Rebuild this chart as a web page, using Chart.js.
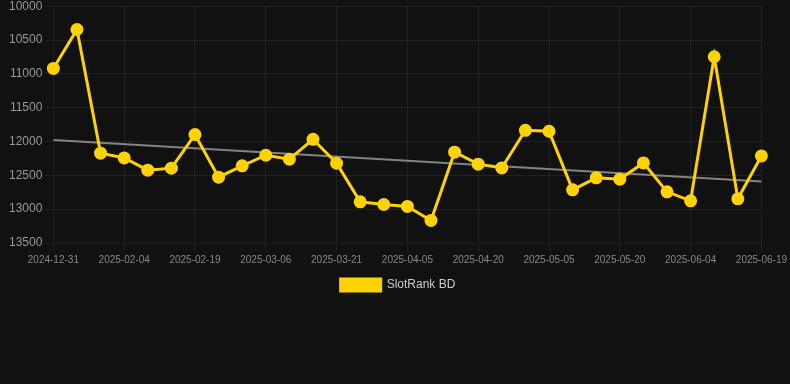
<!DOCTYPE html>
<html>
<head>
<meta charset="utf-8">
<script src="https://cdn.jsdelivr.net/npm/chart.js@4/dist/chart.umd.min.js"></script>
<style>
  html, body { margin: 0; padding: 0; background: #111111; overflow: hidden; }
  #wrap { width: 790px; height: 305px; position: relative; margin-top: -4px; }
</style>
</head>
<body>
<div id="wrap"><canvas id="c"></canvas></div>
<script>
const labels = [
  "2024-12-31", "2025-01-15", "2025-01-30", "2025-02-04", "2025-02-09", "2025-02-14",
  "2025-02-19", "2025-02-24", "2025-03-01", "2025-03-06", "2025-03-11", "2025-03-16",
  "2025-03-21", "2025-03-26", "2025-03-31", "2025-04-05", "2025-04-10", "2025-04-15",
  "2025-04-20", "2025-04-25", "2025-04-30", "2025-05-05", "2025-05-10", "2025-05-15",
  "2025-05-20", "2025-05-25", "2025-05-30", "2025-06-04", "2025-06-09", "2025-06-14",
  "2025-06-19"
];
const rankValues = [
  10920, 10344, 12173, 12242, 12424, 12394, 11898, 12527, 12360, 12203, 12262, 11967,
  12321, 12891, 12931, 12960, 13167, 12158, 12335, 12390, 11834, 11848, 12714, 12537,
  12557, 12316, 12744, 12876, 10747, 12847, 12213
];
const trendStart = 11977;
const trendEnd = 12591;
const trendValues = labels.map((_, i) => i === 0 ? trendStart : (i === labels.length - 1 ? trendEnd : null));
const yTicks = [10000, 10500, 11000, 11500, 12000, 12500, 13000, 13500];

const gridColor = 'rgba(255,255,255,0.07)';

new Chart(document.getElementById('c'), {
  type: 'line',
  data: {
    labels: labels,
    datasets: [
      {
        label: 'SlotRank BD',
        data: rankValues,
        borderColor: '#ffd200',
        backgroundColor: '#ffd200',
        borderWidth: 3,
        pointRadius: 5,
        pointHoverRadius: 5,
        pointBackgroundColor: '#ffd200',
        pointBorderColor: '#ffd200',
        tension: 0
      },
      {
        label: 'trend',
        data: trendValues,
        borderColor: 'rgba(160,160,160,0.8)',
        backgroundColor: 'rgba(160,160,160,0.8)',
        borderWidth: 2,
        pointRadius: 0,
        spanGaps: true,
        tension: 0
      }
    ]
  },
  options: {
    responsive: true,
    maintainAspectRatio: false,
    animation: false,
    layout: { padding: { left: 6, right: 0, top: 0, bottom: 0 } },
    plugins: {
      legend: {
        position: 'bottom',
        labels: {
          color: '#cccccc',
          font: { size: 12 },
          boxWidth: 40,
          filter: (item) => item.text === 'SlotRank BD'
        }
      },
      tooltip: { enabled: false }
    },
    scales: {
      x: {
        grid: { color: gridColor, drawTicks: true },
        ticks: {
          color: '#888888',
          font: { size: 10 },
          autoSkip: false,
          maxRotation: 0,
          callback: function (v, i) { return i % 3 === 0 ? labels[i] : null; }
        }
      },
      y: {
        reverse: true,
        min: yTicks[0],
        max: yTicks[yTicks.length - 1],
        grid: { color: gridColor },
        afterBuildTicks: (axis) => { axis.ticks = yTicks.map(v => ({ value: v })); },
        ticks: {
          color: '#999999',
          font: { size: 12 },
          callback: (v) => String(v)
        }
      }
    }
  }
});
</script>
</body>
</html>
